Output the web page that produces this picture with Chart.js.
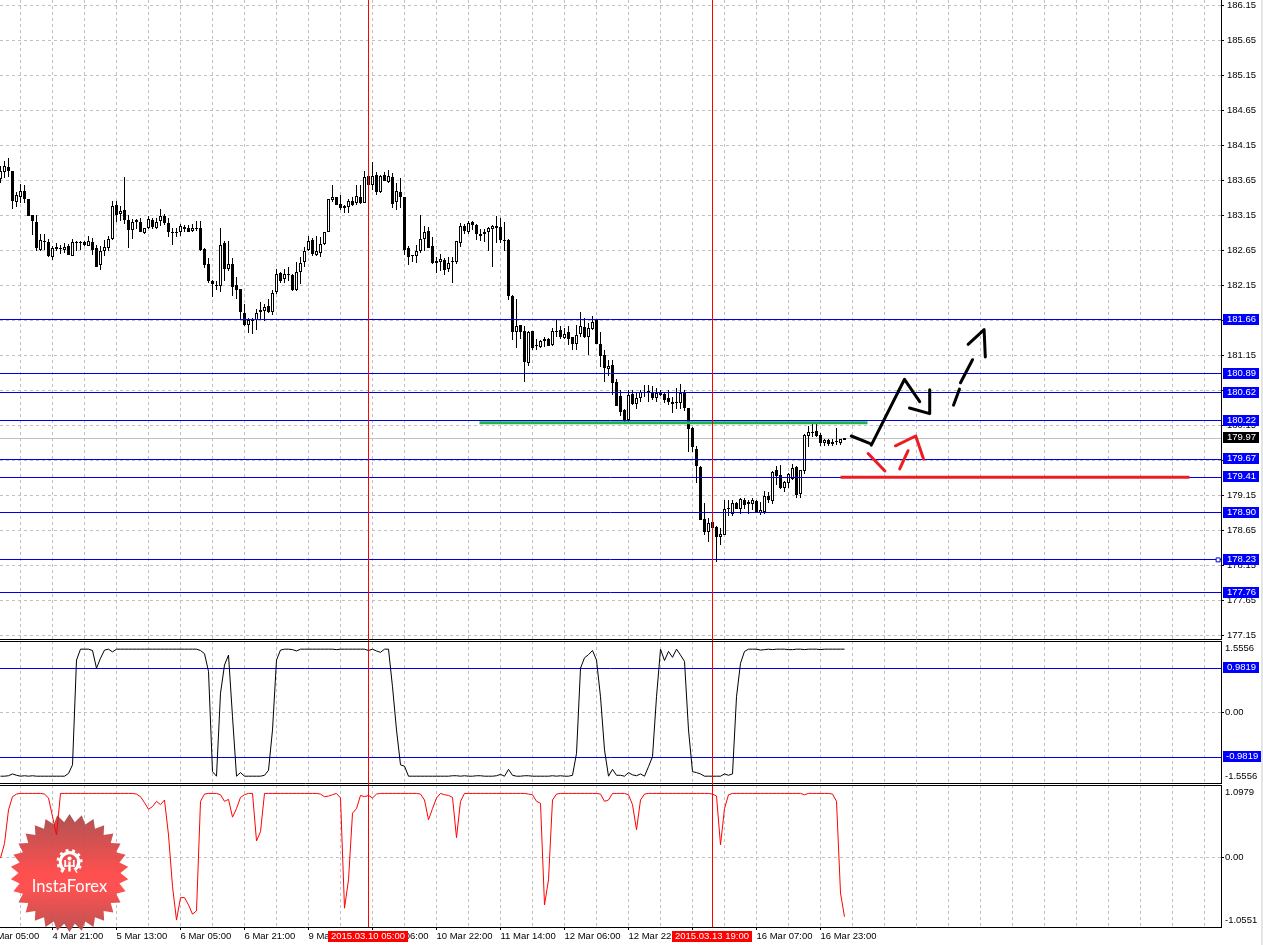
<!DOCTYPE html>
<html><head><meta charset="utf-8"><title>GBP/JPY H1</title>
<style>
html,body{margin:0;padding:0;background:#fff;width:1263px;height:945px;overflow:hidden}
canvas{position:absolute;left:0;display:block}
#strip{position:absolute;left:1261px;top:0;width:2px;height:945px;background:#e4e4e4}
</style>
<script src="https://cdn.jsdelivr.net/npm/chart.js@4"></script>
</head><body>
<canvas id="c1" width="1263" height="641" style="top:0"></canvas>
<canvas id="c2" width="1263" height="144" style="top:641px"></canvas>
<canvas id="c3" width="1263" height="160" style="top:785px"></canvas>
<div id="strip"></div>
<script>
const opens=[183.67,183.77,183.84,183.78,183.34,183.42,183.50,183.39,183.15,183.06,
182.66,182.79,182.77,182.55,182.67,182.69,182.66,182.72,182.57,182.76,
182.77,182.77,182.72,182.77,182.69,182.44,182.64,182.68,182.82,183.30,
183.17,183.23,183.09,182.94,183.08,183.05,182.90,182.97,183.09,182.97,
183.07,183.14,183.04,182.91,182.91,182.91,182.98,182.97,182.93,182.97,
182.97,182.67,182.46,182.21,182.15,182.14,182.75,182.39,182.45,182.15,
182.10,181.76,181.58,181.66,181.66,181.77,181.78,181.86,181.77,182.05,
182.33,182.24,182.30,182.30,182.09,182.34,182.48,182.65,182.80,182.59,
182.62,182.74,182.92,183.37,183.41,183.31,183.29,183.27,183.35,183.33,
183.42,183.33,183.72,183.59,183.73,183.49,183.73,183.63,183.70,183.34,
183.49,183.41,182.69,182.58,182.57,182.64,182.81,182.93,182.71,182.47,
182.48,182.52,182.39,182.50,182.48,182.75,183.00,182.92,183.05,183.02,
182.89,182.89,182.92,182.96,183.00,182.98,182.80,182.80,182.00,181.49,
181.58,181.50,181.04,181.50,181.30,181.27,181.38,181.38,181.30,181.50,
181.51,181.40,181.48,181.42,181.31,181.45,181.56,181.42,181.53,181.65,
181.31,181.15,180.95,181.02,180.77,180.57,180.37,180.23,180.60,180.46,
180.54,180.62,180.64,180.62,180.54,180.62,180.60,180.54,180.49,180.48,
180.47,180.63,180.40,180.12,179.82,179.56,178.82,178.63,178.77,178.70,
178.56,178.59,178.97,178.89,179.04,178.96,179.08,179.05,179.03,179.07,
178.90,178.91,179.14,179.07,179.52,179.44,179.25,179.33,179.39,179.55,
179.17,179.50,180.00,180.06,180.07,180.02,179.90,179.94,179.88,179.93,
179.90,179.94];
const closes=[183.78,183.86,183.78,183.35,183.44,183.50,183.39,183.14,183.07,182.68,
182.80,182.77,182.57,182.69,182.70,182.67,182.70,182.58,182.77,182.77,
182.76,182.73,182.79,182.66,182.42,182.64,182.70,182.81,183.29,183.15,
183.21,183.09,182.94,183.06,183.05,182.92,182.97,183.10,182.98,183.06,
183.14,183.04,182.92,182.90,182.90,183.00,182.95,182.92,182.97,182.95,
182.66,182.44,182.22,182.17,182.14,182.73,182.38,182.45,182.13,182.08,
181.77,181.59,181.65,181.65,181.76,181.80,181.84,181.77,182.04,182.31,
182.22,182.32,182.31,182.09,182.34,182.47,182.64,182.79,182.60,182.64,
182.74,182.91,183.38,183.41,183.30,183.25,183.25,183.36,183.30,183.43,
183.33,183.70,183.59,183.72,183.48,183.71,183.64,183.71,183.32,183.50,
183.41,182.66,182.55,182.57,182.64,182.82,182.91,182.69,182.47,182.50,
182.53,182.37,182.47,182.48,182.78,183.00,182.93,183.04,183.02,182.89,
182.86,182.91,182.97,183.00,182.97,182.80,182.79,182.00,181.49,181.57,
181.49,181.05,181.49,181.26,181.28,181.36,181.36,181.29,181.50,181.49,
181.42,181.46,181.39,181.32,181.44,181.57,181.41,181.54,181.63,181.32,
181.14,180.97,181.00,180.75,180.43,180.34,180.22,180.58,180.46,180.54,
180.63,180.63,180.61,180.54,180.62,180.58,180.51,180.49,180.46,180.47,
180.61,180.40,180.10,179.84,179.57,178.80,178.63,178.75,178.68,178.56,
178.60,178.96,178.96,179.04,178.96,179.10,179.02,179.03,179.08,178.92,
178.94,179.14,179.08,179.49,179.43,179.25,179.34,179.46,179.54,179.15,
179.51,180.01,180.06,180.05,180.00,179.90,179.94,179.89,179.91,179.92,
179.95,179.97];
const highs=[183.86,183.93,183.97,183.78,183.49,183.60,183.59,183.39,183.16,183.16,
182.88,182.89,182.82,182.71,182.75,182.73,182.76,182.74,182.82,182.79,
182.79,182.78,182.86,182.83,182.73,182.71,182.80,182.86,183.35,183.36,
183.29,183.70,183.15,183.10,183.10,183.11,182.97,183.14,183.11,183.11,
183.24,183.17,183.11,182.97,182.97,183.03,183.02,183.01,183.03,183.07,
183.07,182.68,182.54,182.23,182.21,182.97,182.79,182.79,182.54,182.27,
182.10,181.88,181.69,181.69,181.81,181.91,181.89,181.95,182.08,182.39,
182.34,182.39,182.42,182.32,182.49,182.56,182.70,182.86,182.83,182.85,
182.84,182.92,183.39,183.58,183.41,183.44,183.30,183.38,183.41,183.58,
183.58,183.78,183.73,183.91,183.77,183.73,183.77,183.80,183.76,183.61,
183.68,183.41,182.72,182.59,182.73,183.15,183.00,182.99,182.84,182.55,
182.60,182.54,182.55,182.56,182.79,183.04,183.03,183.07,183.07,183.03,
182.95,182.95,182.99,183.01,183.14,183.11,183.06,182.81,182.02,181.95,
181.59,181.57,181.50,181.50,181.39,181.37,181.42,181.40,181.54,181.67,
181.57,181.54,181.57,181.42,181.59,181.77,181.69,181.61,181.72,181.65,
181.48,181.23,181.08,181.08,180.82,180.65,180.39,180.65,180.65,180.63,
180.66,180.73,180.73,180.71,180.68,180.65,180.63,180.66,180.56,180.68,
180.74,180.65,180.40,180.13,179.85,179.57,179.04,178.83,178.80,178.71,
178.68,179.08,179.08,179.08,179.06,179.11,179.11,179.08,179.11,179.08,
179.05,179.22,179.20,179.50,179.57,179.58,179.35,179.47,179.60,179.57,
179.52,180.03,180.14,180.18,180.18,180.04,179.95,179.95,179.96,180.12,
179.96,179.97];
const lows=[183.61,183.69,183.70,183.24,183.27,183.33,183.33,183.14,182.87,182.64,
182.64,182.66,182.56,182.51,182.64,182.60,182.61,182.58,182.57,182.64,
182.66,182.71,182.71,182.59,182.41,182.37,182.57,182.64,182.80,183.05,
183.07,183.03,182.69,182.82,182.95,182.91,182.89,182.96,182.96,182.96,
183.00,183.01,182.84,182.73,182.84,182.86,182.92,182.91,182.91,182.93,
182.64,182.40,182.18,181.99,182.08,182.05,182.22,182.35,182.00,181.95,
181.67,181.57,181.47,181.46,181.51,181.65,181.64,181.76,181.73,182.03,
182.19,182.19,182.21,182.07,182.07,182.17,182.42,182.64,182.57,182.57,
182.55,182.73,182.92,183.34,183.30,183.23,183.18,183.19,183.29,183.30,
183.32,183.33,183.59,183.52,183.44,183.47,183.64,183.61,183.26,183.23,
183.26,182.59,182.44,182.49,182.47,182.62,182.64,182.69,182.46,182.33,
182.36,182.30,182.34,182.19,182.46,182.70,182.89,182.88,182.94,182.80,
182.78,182.77,182.64,182.41,182.76,182.76,182.64,181.94,181.37,181.26,
181.38,180.77,181.00,181.23,181.23,181.26,181.27,181.28,181.28,181.42,
181.38,181.38,181.30,181.23,181.23,181.42,181.40,181.16,181.52,181.32,
180.99,180.77,180.85,180.58,180.43,180.28,180.19,180.20,180.44,180.39,
180.49,180.56,180.49,180.52,180.49,180.57,180.47,180.44,180.33,180.39,
180.39,180.36,179.77,179.77,179.33,178.80,178.58,178.49,178.51,178.20,
178.44,178.58,178.85,178.85,178.95,178.89,178.95,178.89,178.94,178.90,
178.87,178.88,179.04,179.03,179.30,179.24,179.20,179.26,179.37,179.12,
179.12,179.45,179.84,179.99,179.99,179.85,179.85,179.85,179.85,179.87,
179.87,179.94];
const oscillatorA=[-1.40,-1.40,-1.39,-1.35,-1.38,-1.40,-1.39,-1.40,-1.39,-1.40,
-1.40,-1.40,-1.40,-1.40,-1.40,-1.40,-1.40,-1.34,-1.15,1.16,
1.40,1.40,1.40,1.37,0.98,1.20,1.38,1.40,1.34,1.40,
1.40,1.40,1.40,1.40,1.40,1.40,1.40,1.40,1.40,1.40,
1.40,1.40,1.40,1.40,1.40,1.40,1.40,1.40,1.40,1.40,
1.37,1.30,0.91,-1.30,-1.40,0.43,1.05,1.27,-0.09,-1.40,
-1.32,-1.40,-1.40,-1.40,-1.40,-1.40,-1.38,-1.27,-0.38,1.16,
1.38,1.40,1.40,1.39,1.36,1.40,1.40,1.40,1.40,1.40,
1.40,1.40,1.40,1.40,1.39,1.40,1.40,1.40,1.40,1.40,
1.40,1.40,1.37,1.40,1.36,1.33,1.40,1.40,0.57,-0.38,
-1.15,-1.18,-1.40,-1.40,-1.40,-1.40,-1.40,-1.40,-1.40,-1.40,
-1.40,-1.40,-1.40,-1.39,-1.39,-1.40,-1.39,-1.40,-1.40,-1.39,
-1.39,-1.40,-1.40,-1.40,-1.39,-1.36,-1.40,-1.25,-1.38,-1.40,
-1.40,-1.39,-1.39,-1.40,-1.40,-1.40,-1.40,-1.40,-1.39,-1.40,
-1.39,-1.40,-1.40,-1.38,-0.90,0.98,1.21,1.28,1.37,1.16,
0.35,-0.82,-1.40,-1.25,-1.38,-1.38,-1.40,-1.32,-1.37,-1.39,
-1.35,-1.40,-1.19,-0.97,0.35,1.40,1.15,1.35,1.22,1.40,
1.27,1.13,-0.38,-1.30,-1.32,-1.35,-1.40,-1.40,-1.40,-1.40,
-1.40,-1.35,-1.38,-1.35,0.35,1.09,1.35,1.40,1.40,1.40,
1.38,1.39,1.40,1.39,1.40,1.40,1.40,1.39,1.39,1.40,
1.40,1.39,1.40,1.40,1.40,1.39,1.40,1.40,1.40,1.40,
1.40,1.40];
const oscillatorB=[-0.01,0.21,0.72,0.92,0.96,0.97,0.97,0.97,0.97,0.97,
0.97,0.96,0.90,0.62,0.34,0.97,0.97,0.97,0.97,0.97,
0.97,0.97,0.97,0.97,0.97,0.97,0.97,0.97,0.97,0.97,
0.97,0.97,0.97,0.97,0.96,0.92,0.83,0.73,0.77,0.85,
0.80,0.87,0.34,-0.44,-0.95,-0.61,-0.61,-0.72,-0.86,-0.81,
0.85,0.96,0.97,0.97,0.97,0.95,0.85,0.88,0.61,0.74,
0.91,0.95,0.97,0.97,0.25,0.39,0.97,0.97,0.97,0.97,
0.97,0.97,0.97,0.97,0.97,0.97,0.97,0.97,0.97,0.97,
0.96,0.92,0.93,0.95,0.97,0.90,-0.77,-0.34,0.67,0.74,
0.94,0.92,0.94,0.90,0.96,0.97,0.97,0.97,0.97,0.97,
0.97,0.97,0.97,0.97,0.97,0.96,0.87,0.57,0.74,0.90,
0.97,0.95,0.94,0.91,0.30,0.85,0.97,0.97,0.97,0.97,
0.97,0.97,0.97,0.97,0.97,0.97,0.97,0.97,0.97,0.97,
0.97,0.97,0.96,0.95,0.85,0.82,-0.72,-0.34,0.87,0.96,
0.97,0.97,0.97,0.97,0.97,0.97,0.97,0.97,0.97,0.97,
0.96,0.85,0.87,0.97,0.97,0.97,0.97,0.95,0.80,0.42,
0.87,0.96,0.97,0.97,0.97,0.97,0.97,0.97,0.97,0.97,
0.97,0.97,0.97,0.97,0.97,0.97,0.97,0.97,0.96,0.93,
0.19,0.74,0.95,0.97,0.97,0.97,0.97,0.97,0.97,0.97,
0.97,0.97,0.97,0.97,0.97,0.97,0.97,0.97,0.97,0.97,
0.97,0.95,0.97,0.97,0.97,0.97,0.97,0.97,0.96,0.85,
-0.54,-0.90];

const priceTicks=[186.15,185.65,185.15,184.65,184.15,183.65,183.15,182.65,182.15,181.65,181.15,180.65,180.15,179.65,179.15,178.65,178.15,177.65,177.15];
const priceLevels=[181.66,180.89,180.62,180.22,179.67,179.41,178.90,178.23,177.76];
const currentPrice=179.97;
const oscALevels=[0.9819,-0.9819];
const oscATickValues=[1.41,0,-1.41];
const oscATickLabels=['1.5556','0.00','-1.5556'];
const oscBTickValues=[0.98,0,-0.96];
const oscBTickLabels=['1.0979','0.00','-1.0551'];
const dateTickBars=[-3,13,29,45,61,77,93,109,125,141,157,173,189,205];
const dateTickLabels=['4 Mar 05:00','4 Mar 21:00','5 Mar 13:00','6 Mar 05:00','6 Mar 21:00','9 Mar 13:00','10 Mar 06:00','10 Mar 22:00','11 Mar 14:00','12 Mar 06:00','12 Mar 22:00','13 Mar 14:00','16 Mar 07:00','16 Mar 23:00'];
const minorGridBars=[5,21,37,53,69,85,101,117,133,149,165,181,197,213,221,229,237,245,253,261,269,277,285,293,301];
const markerBars=[92,178];
const markerLabels=['2015.03.10 05:00','2015.03.13 19:00'];
const greenLevel=[[119.75,180.19],[216.75,180.19]];
const redLevel=[[210,179.41],[297.25,179.41]];
const blackStrokes=[
 [[212.7,180.00],[217.3,179.895]],
 [[217.7,179.87],[226,180.81],[229.8,180.49]],
 [[227.25,180.40],[232.3,180.32],[232.3,180.66]],
 [[238.25,180.44],[239.75,180.67]],
 [[240,180.76],[243,181.09]],
 [[241.9,181.31],[245.9,181.52],[246.2,181.13]]];
const redStrokes=[
 [[216.9,179.75],[221.1,179.50]],
 [[224.8,179.53],[226.9,179.79]],
 [[223.75,179.86],[228.8,180.00],[230.75,179.67]]];

const FONT={family:"'Liberation Sans',Arial,sans-serif",size:9.5};
const FONTCSS="9.5px 'Liberation Sans',Arial,sans-serif";
const BLUE='#0000e0', LABELBLUE='#0000ff', GRID='#c0c0c0', RED='#ff0000', NONE='rgba(0,0,0,0)';
const X_MIN=-0.125, X_MAX=305.125;
const P_MAX=186.2286, P_MIN=177.0999;

const snapPlugin={id:'snap',afterDatasetsUpdate(chart){
  chart.data.datasets.forEach((ds,i)=>{
    const meta=chart.getDatasetMeta(i);
    if(meta.type==='bar'){
      meta.data.forEach(el=>{
        const a=Math.round(el.y), b=Math.round(el.base);
        el.y=a; el.base=(a===b)?a+1:b;
      });
    } else if(ds.snapY){
      meta.data.forEach(el=>{el.y=Math.floor(el.y)+0.5;});
    }
  });
}};
function levelTags(list){return {id:'levelTags',afterDraw(chart){
  const ctx=chart.ctx, s=chart.scales.y;
  ctx.save();ctx.font=FONTCSS;ctx.textBaseline='middle';ctx.textAlign='left';
  list.forEach(t=>{
    const y=Math.round(s.getPixelForValue(t.value));
    ctx.fillStyle=t.bg;ctx.fillRect(1223,y-6,t.w||36,11);
    ctx.fillStyle='#fff';ctx.fillText(t.text,t.x||1227,y-0.5);
  });
  ctx.restore();
}};}
const topLine={id:'topLine',afterDraw(chart){
  const ctx=chart.ctx;ctx.save();ctx.strokeStyle='#000';ctx.lineWidth=1;
  ctx.beginPath();ctx.moveTo(0,0.5);ctx.lineTo(1222,0.5);ctx.stroke();ctx.restore();
}};
function noPadding(s){s.paddingTop=0;s.paddingBottom=0;s.paddingLeft=0;s.paddingRight=0;}
function xScale(showLabels,height){
  return {type:'linear',min:X_MIN,max:X_MAX,offset:false,
    afterBuildTicks(s){s.ticks=dateTickBars.concat(minorGridBars).sort((a,b)=>a-b).map(v=>({value:v}));},
    afterFit(s){s.height=height;noPadding(s);},
    grid:{offset:false,color:GRID,lineWidth:1,drawTicks:showLabels,tickLength:showLabels?3:0,tickBorderDash:[],
      tickColor:c=>(c.tick&&dateTickBars.includes(c.tick.value))?'#000':NONE},
    border:{display:true,color:'#000',width:1,dash:[3,3],dashOffset:0},
    ticks:{display:showLabels,autoSkip:false,maxRotation:0,minRotation:0,align:'start',padding:1,color:'#000',font:FONT,z:1,
      callback(v){const i=dateTickBars.indexOf(v);return i>=0?dateTickLabels[i]:'';}}
  };
}
function yScale(min,max,tickVals,labelFn,pad,onlyZeroGrid){
  const on=c=>!onlyZeroGrid||(c.tick&&c.tick.value===0);
  return {type:'linear',position:'right',min,max,offset:false,beginAtZero:false,
    afterBuildTicks(s){s.ticks=tickVals.map(v=>({value:v}));},
    afterFit(s){s.width=42;noPadding(s);},
    grid:{color:c=>on(c)?GRID:NONE,lineWidth:1,tickLength:3,tickBorderDash:[],
      tickColor:c=>on(c)?'#000':NONE},
    border:{display:true,color:'#000',width:1,dash:[3,3],dashOffset:0},
    ticks:{autoSkip:false,crossAlign:'near',padding:pad,color:'#000',font:FONT,callback:labelFn}
  };
}
function lineDS(points,color,width,order,extra){
  return Object.assign({type:'line',data:points.map(p=>({x:p[0],y:p[1]})),borderColor:color,borderWidth:width,pointRadius:0,tension:0,order,
    borderCapStyle:'round',borderJoinStyle:'round'},extra||{});
}
function hline(v,color,order){return lineDS([[X_MIN,v],[X_MAX,v]],color,1,order,{snapY:true,borderCapStyle:'butt'});}
function vlines(top,bottom,order){
  return markerBars.map(k=>lineDS([[k,top],[k,bottom]],RED,1,order,{clip:false,borderCapStyle:'butt'}));
}
function baseOptions(scales){
  return {responsive:false,animation:false,devicePixelRatio:1,events:[],
    layout:{padding:0,autoPadding:false},
    plugins:{legend:{display:false},tooltip:{enabled:false}},scales};
}
const bars=opens.map((o,k)=>k);
const barOpts={type:'bar',grouped:false,barPercentage:1,categoryPercentage:1,inflateAmount:0,borderSkipped:false};
const wicks=Object.assign({},barOpts,{data:bars.map(k=>({x:k,y:[lows[k],highs[k]]})),backgroundColor:'#000',barThickness:1,maxBarThickness:1,borderWidth:0,order:20});
const downBodies=Object.assign({},barOpts,{data:bars.filter(k=>closes[k]<=opens[k]).map(k=>({x:k,y:[closes[k],opens[k]]})),backgroundColor:'#000',barThickness:3,maxBarThickness:3,borderWidth:0,order:19});
const upBodies=Object.assign({},barOpts,{data:bars.filter(k=>closes[k]>opens[k]).map(k=>({x:k,y:[opens[k],closes[k]]})),backgroundColor:'#fff',borderColor:'#000',barThickness:3,maxBarThickness:3,borderWidth:1,order:18});

const mainDatasets=[
  hline(currentPrice,GRID,30),
  wicks,downBodies,upBodies,
  lineDS(greenLevel,'#22b14c',3,12,{borderCapStyle:'butt'}),
  ...priceLevels.map(v=>hline(v,BLUE,10)),
  lineDS([[304.4,178.23]],BLUE,1,9,{pointRadius:2.8,pointStyle:'rect',pointBackgroundColor:'#fff',pointBorderColor:BLUE,pointBorderWidth:1,showLine:false}),
  lineDS(redLevel,'#ed1c24',3,8,{borderCapStyle:'butt'}),
  ...blackStrokes.map(s=>lineDS(s,'#000',3,7)),
  ...redStrokes.map(s=>lineDS(s,'#ed1c24',3,7)),
  ...vlines(P_MAX,177.05,5)
];
new Chart(document.getElementById('c1'),{type:'bar',data:{datasets:mainDatasets},
  plugins:[snapPlugin,levelTags(priceLevels.map(v=>({value:v,text:v.toFixed(2),bg:LABELBLUE})).concat([{value:currentPrice,text:currentPrice.toFixed(2),bg:'#000'}]))],
  options:baseOptions({x:xScale(false,2),y:yScale(P_MIN,P_MAX,priceTicks,v=>v.toFixed(2),3,false)})});

new Chart(document.getElementById('c2'),{type:'bar',data:{datasets:[
  ...oscALevels.map(v=>hline(v,BLUE,10)),
  lineDS(oscillatorA.map((v,k)=>[k,v]),'#000',1,8,{borderCapStyle:'butt'}),
  ...vlines(1.58,-1.60,5)]},
  plugins:[snapPlugin,topLine,levelTags([{value:0.9819,text:'0.9819',bg:LABELBLUE},{value:-0.9819,text:'-0.9819',bg:LABELBLUE,w:38,x:1226}])],
  options:baseOptions({x:xScale(false,2),y:yScale(-1.55,1.58,oscATickValues,v=>oscATickLabels[oscATickValues.indexOf(v)],1,true)})});

const badge={id:'badge',beforeDatasetsDraw(chart){
  const ctx=chart.ctx,cx=69.5,cy=88,R=59,r=51,n=30;
  ctx.save();
  const g=ctx.createLinearGradient(0,cy-R,0,cy+R);
  g.addColorStop(0,'rgba(170,70,70,0.93)');g.addColorStop(0.5,'rgba(255,70,70,0.95)');g.addColorStop(0.62,'rgba(255,72,72,0.95)');g.addColorStop(1,'rgba(185,70,70,0.93)');
  ctx.fillStyle=g;ctx.beginPath();
  for(let i=0;i<n*2;i++){const a=Math.PI*i/n-Math.PI/2,q=i%2?r:R;ctx[i?'lineTo':'moveTo'](cx+q*Math.cos(a),cy+q*Math.sin(a));}
  ctx.closePath();ctx.fill();
  const gx=69.5,gy=77;
  ctx.strokeStyle='#fff';ctx.fillStyle='#fff';ctx.lineCap='butt';
  ctx.lineWidth=3.2;ctx.beginPath();ctx.arc(gx,gy,9.3,Math.PI*0.68,Math.PI*2.32);ctx.stroke();
  ctx.lineWidth=3;ctx.setLineDash([2.8,3.6]);ctx.beginPath();ctx.arc(gx,gy,11.5,Math.PI*0.68,Math.PI*2.32);ctx.stroke();ctx.setLineDash([]);
  ctx.beginPath();ctx.arc(gx,gy-3.5,2.1,0,Math.PI*2);ctx.fill();
  ctx.fillRect(gx-1.2,gy-0.5,2.4,10);
  ctx.fillRect(gx-5.2,gy-2,1.8,7);ctx.fillRect(gx+3.4,gy-2,1.8,7);
  ctx.fillRect(gx-5.2,gy+3.2,10.4,1.4);
  ctx.font="16.5px Lato,sans-serif";ctx.textAlign='center';ctx.textBaseline='middle';
  ctx.fillText('InstaForex',cx,102);
  ctx.restore();
}};
const markerTags={id:'markerTags',afterDraw(chart){
  const ctx=chart.ctx,s=chart.scales.x;
  ctx.save();ctx.font=FONTCSS;ctx.textAlign='center';ctx.textBaseline='middle';
  markerBars.forEach((k,i)=>{
    const x=Math.floor(s.getPixelForValue(k));
    ctx.fillStyle=RED;ctx.fillRect(x-40,146,80,11);
    ctx.fillStyle='#fff';ctx.fillText(markerLabels[i],x,151.5);
  });
  ctx.restore();
}};
new Chart(document.getElementById('c3'),{type:'bar',data:{datasets:[
  lineDS(oscillatorB.map((v,k)=>[k,v]),RED,1,8,{borderCapStyle:'butt'}),
  ...vlines(1.0976,-1.0552,5)]},
  plugins:[badge,topLine,markerTags],
  options:baseOptions({x:xScale(true,18),y:yScale(-1.0552,1.0976,oscBTickValues,v=>oscBTickLabels[oscBTickValues.indexOf(v)],1,true)})});
</script>
</body></html>
